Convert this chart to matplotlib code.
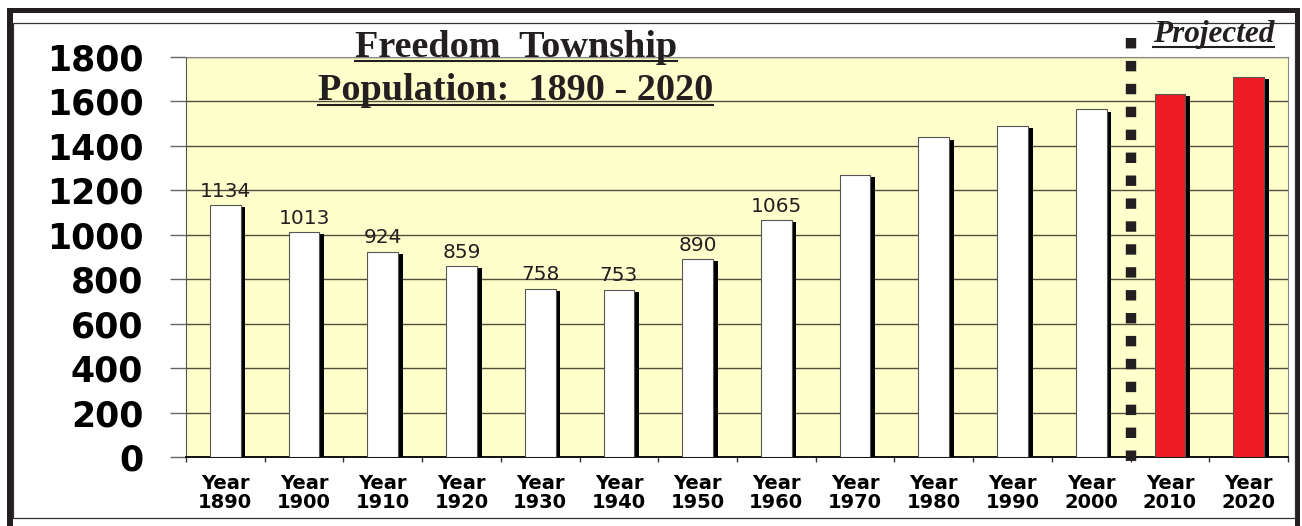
import numpy as np
import matplotlib
matplotlib.use('Agg')
import matplotlib.pyplot as plt
import matplotlib.patheffects as pe
import matplotlib.transforms as transforms
from matplotlib.patches import Rectangle
from matplotlib.lines import Line2D

# census years and population counts (last two are projections)
years = [1890, 1900, 1910, 1920, 1930, 1940, 1950, 1960, 1970, 1980, 1990, 2000, 2010, 2020]
population = [1134, 1013, 924, 859, 758, 753, 890, 1065, 1270, 1438, 1489, 1564, 1633, 1711]
projected = [False] * 12 + [True] * 2
# only the first bars carry a value label
n_labeled = 8
tick_labels = ['Year\n%d' % y for y in years]
y_ticks = list(range(0, 1801, 200))

W, H = 1302, 526
ink = '#231F20'

fig = plt.figure(figsize=(W / 100, H / 100), dpi=100)
fig.patch.set_facecolor('white')
ax = fig.add_axes([186 / W, 1 - 457 / H, 1102 / W, 400 / H])


def fig_rect(x0, y0, x1, y1, **kw):
    # rectangle given in pixel coords measured from the top-left corner
    fig.add_artist(Rectangle((x0 / W, 1 - y1 / H), (x1 - x0) / W, (y1 - y0) / H,
                             transform=fig.transFigure, **kw))


# page frame
fig_rect(7, 8, 12.7, 530, facecolor=ink, linewidth=0)
fig_rect(7, 8, 1300, 13, facecolor=ink, linewidth=0)
fig_rect(1295, 8, 1300, 530, facecolor=ink, linewidth=0)
fig_rect(12.7, 23, 1294.5, 517.5, fill=False, edgecolor='#333333', linewidth=0.9)

# bars with a drop shadow
x = np.arange(len(years))
colors = ['#ED1C24' if p else 'white' for p in projected]
bars = ax.bar(x, population, width=0.39, color=colors, edgecolor='#555555',
              linewidth=0.8, zorder=3)
for b in bars:
    b.set_path_effects([pe.SimplePatchShadow(offset=(3.4, -1.5), shadow_rgbFace='black', alpha=1.0),
                        pe.Normal()])

for i in range(n_labeled):
    ax.annotate(str(population[i]), (x[i], population[i]), xytext=(0, 6),
                textcoords='offset points', ha='center', va='baseline',
                fontsize=14.5, color=ink, zorder=4)

ax.set_xlim(-0.5, len(years) - 0.5)
ax.set_ylim(0, 1800)
ax.set_facecolor('#FFFFCC')

ax.set_yticks(y_ticks)
ax.set_yticklabels([str(v) for v in y_ticks], fontweight='bold', fontsize=25, color='black')
ax.tick_params(axis='y', length=11.25, width=1, color='#666666', pad=19.5)
ax.grid(axis='y', color='#4f4f3c', linewidth=1)
ax.set_axisbelow(True)

ax.set_xticks(x)
ax.set_xticklabels(tick_labels, fontweight='bold', fontsize=14, linespacing=0.95)
ax.tick_params(axis='x', which='major', length=0, pad=12.5)
ax.set_xticks(np.arange(-0.5, len(years)), minor=True)
ax.tick_params(axis='x', which='minor', length=3.5, width=1, color='#333333')

ax.spines['left'].set_color('#555555')
ax.spines['bottom'].set_color('black')
ax.spines['bottom'].set_linewidth(1.3)
for s in ['top', 'right']:
    ax.spines[s].set_color('#888888')

# dotted divider between census and projected values
split = projected.index(True) - 0.5
trans = transforms.blended_transform_factory(ax.transData, ax.transAxes)
ax.plot([split, split], [1.0475, -0.0225], transform=trans, color=ink, lw=7.5,
        linestyle=(0, (1.0, 1.2)), dash_capstyle='butt', clip_on=False, zorder=5)

# titles (underlined)
t1 = fig.text(516 / W, 1 - 57.3 / H, 'Freedom  Township', ha='center', va='baseline',
              family='Liberation Serif', weight='bold', size=27.5, color=ink)
t2 = fig.text(515.5 / W, 1 - 100 / H, 'Population:  1890 - 2020', ha='center', va='baseline',
              family='Liberation Serif', weight='bold', size=27.5, color=ink)
t3 = fig.text(1213.5 / W, 1 - 42.3 / H, 'Projected', ha='center', va='baseline',
              family='Liberation Serif', weight='bold', style='italic', size=22.5, color=ink)

renderer = fig.canvas.get_renderer()
for t, base, gap in [(t1, 57.3, 4.0), (t2, 100, 5.0), (t3, 42.3, 4.4)]:
    bb = t.get_window_extent(renderer=renderer)
    yy = 1 - (base + gap) / H
    fig.add_artist(Line2D([bb.x0 / W, bb.x1 / W], [yy, yy], transform=fig.transFigure,
                          color=ink, linewidth=1.5))

fig.savefig('out.png', dpi=100)
